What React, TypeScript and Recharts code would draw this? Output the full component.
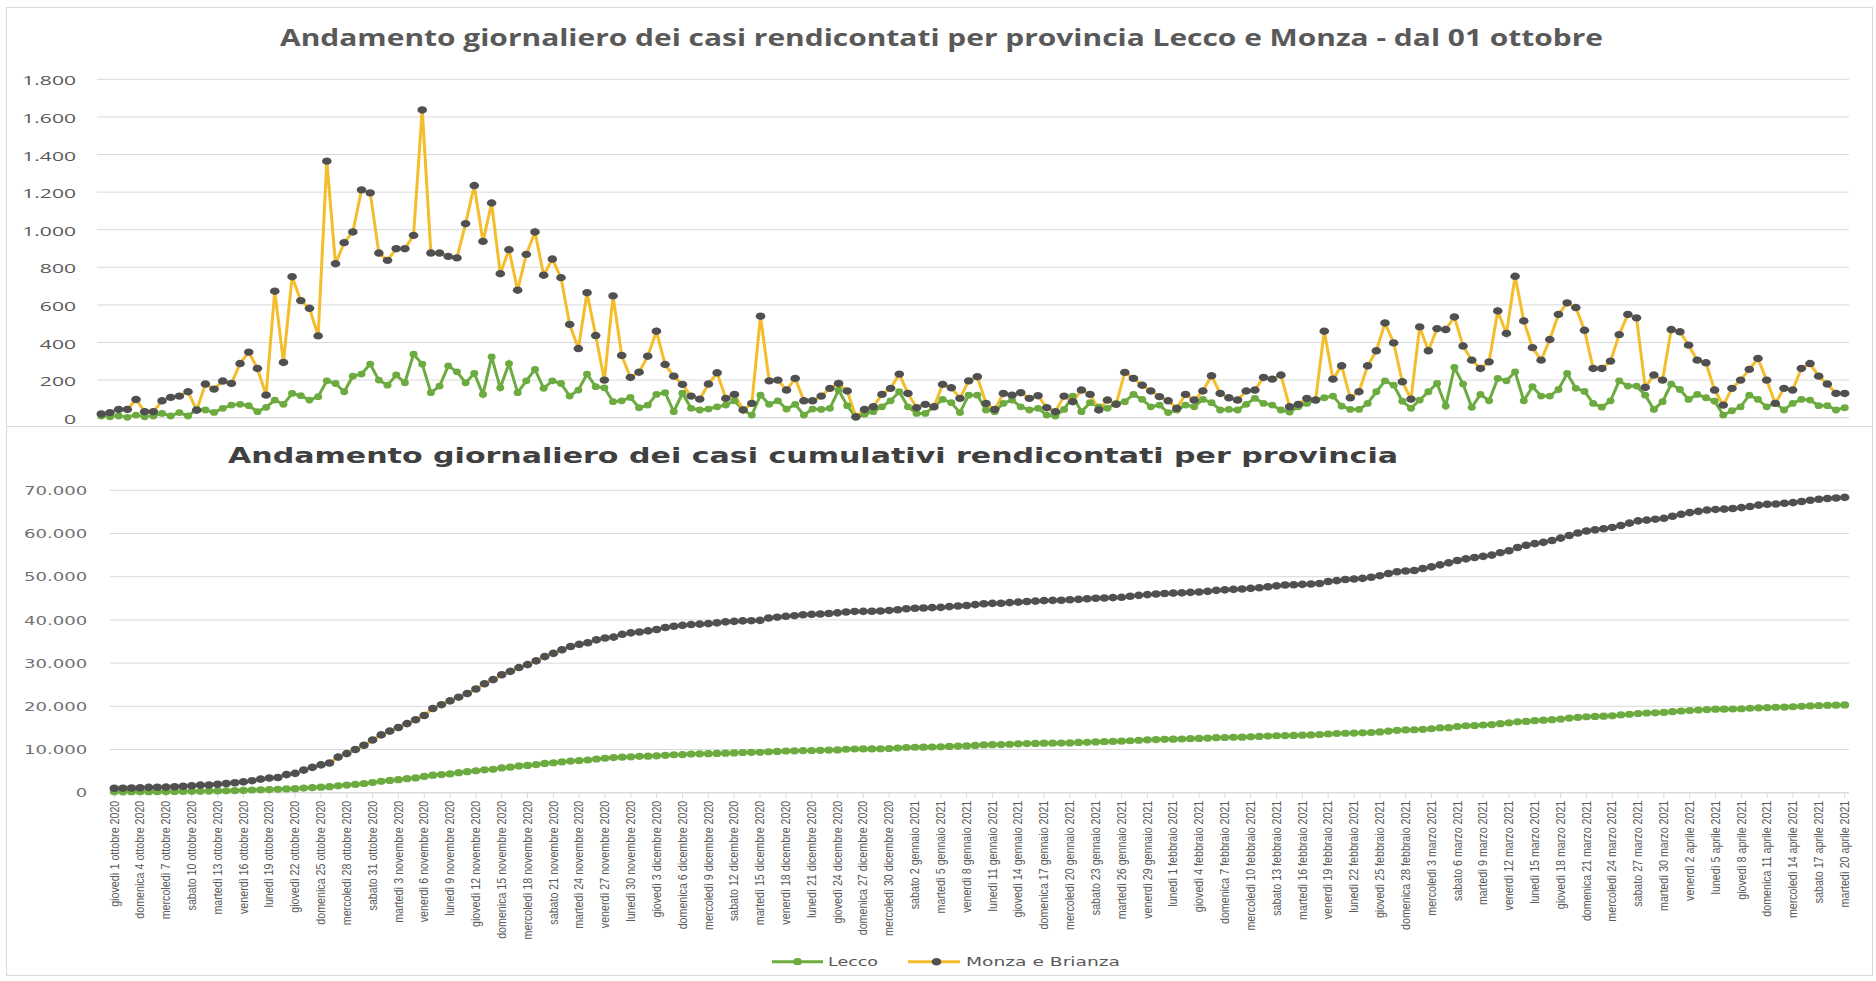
import React from "react";
import { LineChart, Line, XAxis, YAxis, CartesianGrid } from "recharts";

// calendar used to build the day categories (1 ottobre 2020 -> 20 aprile 2021)
const MONTHS = ["ottobre", "novembre", "dicembre", "gennaio", "febbraio", "marzo", "aprile"];
const MONTH_DAYS = [31, 30, 31, 31, 28, 31, 20];
const MONTH_YEARS = [2020, 2020, 2020, 2021, 2021, 2021, 2021];
const WEEKDAYS = ["giovedì", "venerdì", "sabato", "domenica", "lunedì", "martedì", "mercoledì"];

// daily reported cases
const LECCO_DAILY = [
  9, 5, 9, 2, 14, 5, 9, 23, 9, 27,
  9, 44, 41, 28, 50, 67, 71, 64, 32, 55,
  94, 71, 129, 117, 94, 112, 196, 182, 138, 221,
  232, 285, 200, 173, 227, 186, 338, 285, 133, 168,
  276, 244, 186, 235, 124, 324, 159, 288, 133, 196,
  257, 156, 196, 182, 115, 147, 232, 165, 159, 85,
  90, 108, 53, 67, 124, 133, 32, 130, 50, 41,
  46, 58, 67, 90, 41, 14, 120, 71, 90, 46,
  71, 14, 46, 44, 50, 147, 64, 2, 19, 32,
  58, 90, 138, 58, 23, 23, 58, 97, 80, 27,
  120, 120, 41, 32, 76, 94, 58, 41, 50, 14,
  9, 44, 115, 32, 80, 58, 50, 76, 85, 124,
  97, 58, 67, 27, 41, 67, 58, 97, 80, 41,
  44, 41, 71, 103, 76, 67, 41, 30, 58, 76,
  94, 106, 115, 62, 44, 44, 76, 138, 196, 173,
  88, 50, 94, 138, 182, 62, 267, 179, 55, 124,
  90, 209, 196, 244, 90, 165, 115, 115, 150, 235,
  156, 140, 76, 56, 90, 196, 168, 168, 120, 44,
  85, 179, 150, 97, 124, 106, 88, 14, 37, 58,
  120, 97, 58, 76, 41, 76, 97, 94, 64, 64,
  41, 53,
];

const MONZA_DAILY = [
  20, 27, 44, 44, 97, 32, 32, 90, 108, 115,
  138, 40, 179, 152, 195, 182, 288, 349, 262, 120,
  673, 294, 750, 623, 582, 435, 1365, 819, 931, 988,
  1212, 1196, 876, 837, 899, 899, 970, 1637, 876, 876,
  858, 850, 1032, 1235, 938, 1142, 766, 894, 678, 869,
  988, 758, 844, 745, 496, 368, 665, 437, 200, 648,
  331, 214, 242, 327, 460, 283, 221, 177, 115, 99,
  179, 239, 103, 124, 41, 76, 540, 196, 200, 147,
  209, 90, 90, 115, 156, 182, 142, 5, 44, 58,
  124, 156, 232, 129, 53, 71, 58, 177, 159, 103,
  196, 218, 76, 44, 129, 120, 133, 103, 117, 53,
  32, 115, 85, 147, 124, 41, 94, 71, 241, 209,
  173, 142, 112, 90, 50, 124, 94, 142, 223, 129,
  106, 94, 142, 147, 214, 205, 227, 58, 71, 103,
  94, 460, 205, 276, 106, 138, 276, 356, 504, 398,
  191, 99, 483, 356, 474, 469, 536, 381, 306, 262,
  297, 568, 448, 752, 515, 373, 306, 416, 549, 611,
  586, 465, 262, 262, 301, 442, 549, 531, 161, 227,
  200, 469, 457, 386, 306, 292, 147, 67, 156, 200,
  257, 315, 200, 76, 156, 147, 262, 288, 221, 179,
  129, 129,
];

// cumulative totals already counted before 1 ottobre
const LECCO_START = 200;
const MONZA_START = 1000;

const TOP_TICKS = [0, 200, 400, 600, 800, 1000, 1200, 1400, 1600, 1800];
const BOTTOM_TICKS = [0, 10000, 20000, 30000, 40000, 50000, 60000, 70000];

const GREEN = "#6cab3f";
const GOLD = "#f3bd2b";
const DARK = "#505050";
const GRID = "#d9d9d9";

const dates: string[] = [];
MONTHS.forEach((m, i) => {
  for (let d = 1; d <= MONTH_DAYS[i]; d++) {
    dates.push(`${WEEKDAYS[dates.length % 7]} ${d} ${m} ${MONTH_YEARS[i]}`);
  }
});

let lc = LECCO_START;
let mc = MONZA_START;
const rows = dates.map((date, i) => {
  lc += LECCO_DAILY[i];
  mc += MONZA_DAILY[i];
  return { date, lecco: LECCO_DAILY[i], monza: MONZA_DAILY[i], leccoCum: lc, monzaCum: mc };
});

const fmt = (v: number) => String(v).replace(/\B(?=(\d{3})+(?!\d))/g, ".");

const dot = (fill: string, rx: number, ry: number) => (p: any) => {
  if (p.cx == null || p.cy == null) return <g key={p.index} />;
  return <ellipse key={p.index} cx={p.cx} cy={p.cy} rx={rx} ry={ry} fill={fill} />;
};

const TopYTick = ({ x, y, payload }: any) => (
  <text
    transform={`translate(${x},${y + 6}) scale(1.62,1)`}
    textAnchor="end"
    fontSize={13}
    fontFamily="'Open Sans', sans-serif"
    fill="#595959"
  >
    {fmt(payload.value)}
  </text>
);

const BottomYTick = ({ x, y, payload }: any) => (
  <text
    transform={`translate(${x},${y + 4.7}) scale(1.45,1)`}
    textAnchor="end"
    fontSize={12.5}
    fontFamily="'DejaVu Sans', sans-serif"
    fill="#707070"
  >
    {fmt(payload.value)}
  </text>
);

const DateTick = ({ x, y, payload }: any) => (
  <text
    transform={`translate(${x},${y}) rotate(-90) scale(0.89,1)`}
    textAnchor="end"
    dy="0.35em"
    fontSize={12}
    fontFamily="'Liberation Sans', Arial, sans-serif"
    fill="#595959"
  >
    {payload.value}
  </text>
);

export default function App() {
  return (
    <div style={{ position: "relative", width: 1876, height: 981, background: "#fff", overflow: "hidden" }}>
      <style>{"body{margin:0}"}</style>

      <div style={{ position: "absolute", left: 0, top: 0 }}>
        <LineChart width={1876} height={430} data={rows} margin={{ top: 79.3, right: 27, bottom: 0, left: 0 }}>
          <CartesianGrid vertical={false} stroke={GRID} />
          <XAxis
            dataKey="date"
            interval={2}
            height={12.3}
            padding={{ left: 4.3, right: 4.3 }}
            tick={false}
            tickSize={5}
            stroke={GRID}
          />
          <YAxis
            domain={[0, 1800]}
            ticks={TOP_TICKS}
            width={97}
            axisLine={false}
            tickLine={false}
            tickSize={0}
            tickMargin={21}
            tick={<TopYTick />}
          />
          <Line
            type="linear"
            dataKey="lecco"
            stroke={GREEN}
            strokeWidth={3}
            dot={dot(GREEN, 4, 3.4)}
            activeDot={false}
            isAnimationActive={false}
          />
          <Line
            type="linear"
            dataKey="monza"
            stroke={GOLD}
            strokeWidth={3}
            dot={dot(DARK, 4.8, 3.7)}
            activeDot={false}
            isAnimationActive={false}
          />
        </LineChart>
      </div>

      <div style={{ position: "absolute", left: 0, top: 426 }}>
        <LineChart width={1876} height={555} data={rows} margin={{ top: 64.3, right: 27, bottom: 38.3, left: 0 }}>
          <CartesianGrid vertical={false} stroke={GRID} />
          <XAxis
            dataKey="date"
            interval={2}
            height={150}
            padding={{ left: 4.3, right: 4.3 }}
            tickSize={5}
            tickMargin={3}
            stroke={GRID}
            tick={<DateTick />}
          />
          <YAxis
            domain={[0, 70000]}
            ticks={BOTTOM_TICKS}
            width={110}
            axisLine={false}
            tickLine={false}
            tickSize={0}
            tickMargin={22.7}
            tick={<BottomYTick />}
          />
          <Line
            type="linear"
            dataKey="leccoCum"
            stroke={GREEN}
            strokeWidth={3}
            dot={dot(GREEN, 4.5, 3.6)}
            activeDot={false}
            isAnimationActive={false}
          />
          <Line
            type="linear"
            dataKey="monzaCum"
            stroke={GOLD}
            strokeWidth={3}
            dot={dot(DARK, 4.8, 3.8)}
            activeDot={false}
            isAnimationActive={false}
          />
        </LineChart>
      </div>

      <svg
        width={1876}
        height={981}
        style={{ position: "absolute", left: 0, top: 0, pointerEvents: "none" }}
      >
        <rect x={6.5} y={7.5} width={1866} height={968} fill="none" stroke={GRID} />
        <line x1={6.5} x2={1872.5} y1={426.5} y2={426.5} stroke={GRID} />
        <text
          x={280}
          y={46}
          fontSize={23}
          fontWeight="bold"
          fontFamily="'Open Sans', sans-serif"
          fill="#595959"
          textLength={1323}
          lengthAdjust="spacingAndGlyphs"
        >
          Andamento giornaliero dei casi rendicontati per provincia Lecco e Monza - dal 01 ottobre
        </text>
        <text
          x={228}
          y={463.3}
          fontSize={22}
          fontWeight="bold"
          fontFamily="'DejaVu Sans', sans-serif"
          fill="#404040"
          textLength={1170}
          lengthAdjust="spacingAndGlyphs"
        >
          Andamento giornaliero dei casi cumulativi rendicontati per provincia
        </text>

        <line x1={772} x2={823} y1={961.7} y2={961.7} stroke={GREEN} strokeWidth={3} />
        <ellipse cx={797.5} cy={961.7} rx={4.5} ry={3.6} fill={GREEN} />
        <text
          x={828}
          y={966}
          fontSize={13}
          fontFamily="'DejaVu Sans', sans-serif"
          fill="#595959"
          textLength={50}
          lengthAdjust="spacingAndGlyphs"
        >
          Lecco
        </text>
        <line x1={908} x2={960} y1={961.7} y2={961.7} stroke={GOLD} strokeWidth={3} />
        <ellipse cx={936.5} cy={961.7} rx={4.8} ry={3.8} fill={DARK} />
        <text
          x={966}
          y={966}
          fontSize={13}
          fontFamily="'DejaVu Sans', sans-serif"
          fill="#595959"
          textLength={154}
          lengthAdjust="spacingAndGlyphs"
        >
          Monza e Brianza
        </text>
      </svg>
    </div>
  );
}
